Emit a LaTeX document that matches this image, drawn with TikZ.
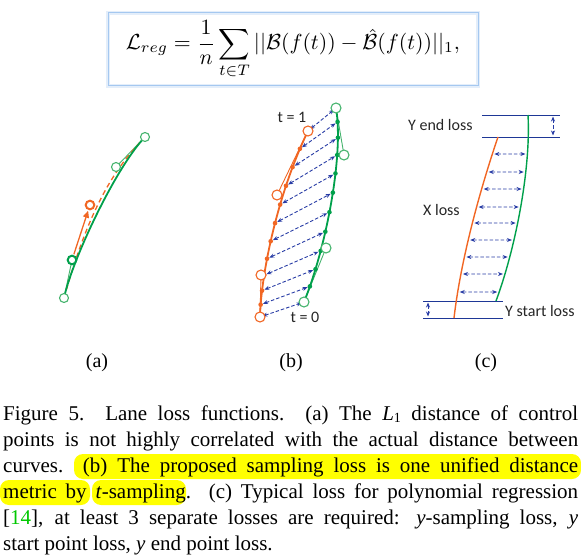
\documentclass[tikz,border=0pt]{standalone}
\usepackage{graphicx}
\usepackage{fontspec}
\setmainfont{Liberation Serif}
\newfontfamily\calfont{Carlito}
\usetikzlibrary{arrows.meta,intersections,calc}
\definecolor{lorange}{RGB}{241,102,35}
\definecolor{lgreen}{RGB}{0,160,75}
\definecolor{lgreenthin}{RGB}{70,180,110}
\definecolor{arrowblue}{RGB}{40,60,165}
\definecolor{lineblue}{RGB}{30,55,150}
\definecolor{boxblue}{RGB}{165,200,240}
\definecolor{citegreen}{RGB}{0,200,0}
\definecolor{hlyellow}{RGB}{255,255,0}
\tikzset{
  gcurve/.style={draw=lgreen,line width=1.8pt},
  ocurve/.style={draw=lorange,line width=1.8pt},
  gthin/.style={draw=lgreenthin,line width=0.9pt},
  othin/.style={draw=lorange,line width=0.9pt},
  gopen/.style={draw=lgreenthin,fill=white,line width=1.1pt},
  oopen/.style={draw=lorange,fill=white,line width=1.1pt},
  barrow/.style={draw=arrowblue,line width=0.9pt,dash pattern=on 3.5pt off 2pt,
     {Stealth[length=5pt,width=4pt]}-{Stealth[length=5pt,width=4pt]}},
  cline/.style={draw=lineblue,line width=0.9pt},
  lbl/.style={font=\calfont\fontsize{16}{19}\selectfont,text=black!85,inner sep=0pt},
  capline/.style={anchor=base west,inner sep=0pt,font=\fontsize{21}{25}\selectfont},
  sublbl/.style={inner sep=0pt,font=\fontsize{20}{24}\selectfont},
  hl/.style={fill=hlyellow,rounded corners=9pt}
}
\begin{document}
\begin{tikzpicture}[x=1pt,y=-1pt]
\useasboundingbox (0,0) rectangle (581,559);

% ---------- equation box ----------
\draw[boxblue,opacity=0.3,line width=4pt] (108,13) rectangle (478,86);
\draw[boxblue,line width=1pt] (108,13) rectangle (478,86);
\node[inner sep=0pt] (eq) at (293,50) {\resizebox{334pt}{!}{$\displaystyle \mathcal{L}_{reg}=\frac{1}{n}\sum_{t\in T}||\mathcal{B}(f(t))-\hat{\mathcal{B}}(f(t))||_1,$}};

% ---------- panel (a) ----------
\coordinate (a0) at (64,298);
\coordinate (a1) at (72,260);
\coordinate (a2) at (116,167);
\coordinate (a3) at (145,137);
\coordinate (aq) at (90,205);
\draw[gthin] (a0) -- (a1);
\draw[gthin] (a2) -- (a3);
\draw[lorange,line width=1.3pt,dash pattern=on 5pt off 3.5pt] (a0) .. controls (aq) and (a2) .. (a3);
\draw[gcurve] (a0) .. controls (a1) and (a2) .. (a3);
\draw[lorange,line width=1.3pt,shorten <=6pt,shorten >=6pt,-{Triangle[length=7pt,width=6pt]}] (a1) -- (aq);
\draw[gopen] (a0) circle (4.5pt);
\draw[gopen] (a2) circle (4.5pt);
\draw[gopen] (a3) circle (4.5pt);
\draw[draw=lgreen,fill=white,line width=2pt] (a1) circle (4.3pt);
\draw[draw=lorange,fill=white,line width=2pt] (aq) circle (4.3pt);

% ---------- panel (b) ----------
\coordinate (b0) at (260,317);
\coordinate (b1) at (261,275);
\coordinate (b2) at (277,195);
\coordinate (b3) at (308,131);
\coordinate (c0) at (304,302);
\coordinate (c1) at (326,248);
\coordinate (c2) at (344,155);
\coordinate (c3) at (336,108);
\draw[othin] (b0) -- (b1);
\draw[othin] (b2) -- (b3);
\draw[gthin] (c0) -- (c1);
\draw[gthin] (c2) -- (c3);
\draw[ocurve] (b0) .. controls (b1) and (b2) .. (b3);
\draw[gcurve] (c0) .. controls (c1) and (c2) .. (c3);
\foreach \i in {0,...,11}{
  \path (b0) .. controls (b1) and (b2) .. (b3) coordinate[pos=\i/11] (o\i);
  \path (c0) .. controls (c1) and (c2) .. (c3) coordinate[pos=\i/11] (g\i);
}
\foreach \i in {0,...,11}{
  \draw[barrow,shorten <=2.5pt,shorten >=2.5pt] (o\i) -- (g\i);
}
\foreach \i in {0,...,11}{
  \fill[lorange] (o\i) circle (2.3pt);
  \fill[lgreen] (g\i) circle (2.3pt);
}
\draw[oopen] (b0) circle (5pt);
\draw[oopen] (b1) circle (5pt);
\draw[oopen] (b2) circle (5pt);
\draw[oopen] (b3) circle (5pt);
\draw[gopen] (c0) circle (5pt);
\draw[gopen] (c1) circle (5pt);
\draw[gopen] (c2) circle (5pt);
\draw[gopen] (c3) circle (5pt);
\node[lbl] (t1) at (292,117) {t = 1};
\node[lbl] (t0) at (305,317) {t = 0};

% ---------- panel (c) ----------
\draw[cline] (482,115) coordinate (e1l) -- (560,115) coordinate (e1r);
\draw[cline] (482,137) coordinate (e2l) -- (560,137) coordinate (e2r);
\draw[cline] (423,301) coordinate (s1l) -- (503,301) coordinate (s1r);
\draw[cline] (423,318) coordinate (s2l) -- (503,318) coordinate (s2r);
\coordinate (ea) at (553,115);
\coordinate (eb) at (553,137);
\coordinate (sa) at (428,301);
\coordinate (sb) at (428,318);
\draw[barrow,shorten <=1.5pt,shorten >=1.5pt] (ea) -- (eb);
\draw[barrow,shorten <=1.5pt,shorten >=1.5pt] (sa) -- (sb);
\draw[ocurve,line width=1.4pt,name path=oc] (498,137) .. controls (485,175) and (462,250) .. (454,318);
\draw[gcurve,line width=1.4pt,name path=gc] (528,115) .. controls (531,170) and (515,250) .. (496,301);
\foreach \yy in {154,172,189,207,223,240,257,274,292}{
  \path[name path=hline] (400,\yy) -- (570,\yy);
  \path[name intersections={of=oc and hline,by=L}];
  \path[name intersections={of=gc and hline,by=R}];
  \draw[barrow,shorten <=2pt,shorten >=2pt] (L) -- (R);
}
\node[lbl,anchor=west] (yend) at (408,125) {Y end loss};
\node[lbl,anchor=west] (xloss) at (423,210) {X loss};
\node[lbl,anchor=west] (ystart) at (505,311) {Y start loss};

% ---------- sub labels ----------
\node[sublbl] (la) at (97,363) {(a)};
\node[sublbl] (lb) at (291,363) {(b)};
\node[sublbl] (lc) at (486,363) {(c)};

% ---------- caption ----------
\fill[hl] (74,454) rectangle (581,479);
\fill[hl] (0,480) rectangle (90,505);
\fill[hl] (92,480) rectangle (186,505);
\node[capline] (cap1) at (3,420) {\makebox[575pt][s]{Figure 5.\ \ Lane loss functions.\ \ (a) The \textit{L}\raisebox{-0.3ex}{\fontsize{14}{16}\selectfont 1} distance of control}};
\node[capline] (cap2) at (3,446) {\makebox[575pt][s]{points is not highly correlated with the actual distance between}};
\node[capline] (cap3) at (3,472) {\makebox[575pt][s]{curves.\ \ (b) The proposed sampling loss is one unified distance}};
\node[capline] (cap4) at (3,498) {\makebox[575pt][s]{metric by \textit{t}-sampling.\ \ (c) Typical loss for polynomial regression}};
\node[capline] (cap5) at (3,524) {\makebox[575pt][s]{[\textcolor{citegreen}{14}], at least 3 separate losses are required: \textit{y}-sampling loss, \textit{y}}};
\node[capline] (cap6) at (3,550) {start point loss, \textit{y} end point loss.};
\end{tikzpicture}
\end{document}
